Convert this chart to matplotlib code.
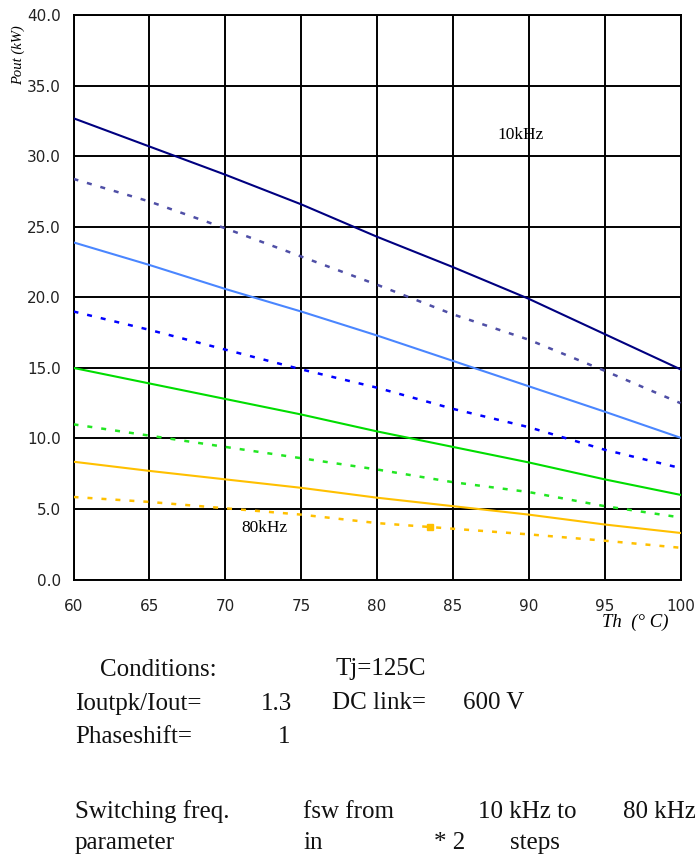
import matplotlib
matplotlib.use("Agg")
import matplotlib.pyplot as plt

# ---- data ----
temps = [60, 65, 70, 75, 80, 85, 90, 95, 100]
p_10k_solid = [32.7, 30.7, 28.7, 26.6, 24.3, 22.15, 19.9, 17.4, 14.9]
p_10k_dot = [28.4, 26.8, 24.9, 22.9, 20.9, 18.8, 17.0, 14.8, 12.5]
p_20k_solid = [23.9, 22.3, 20.6, 19.0, 17.3, 15.5, 13.7, 11.9, 10.05]
p_20k_dot = [19.0, 17.7, 16.3, 14.9, 13.6, 12.1, 10.8, 9.2, 7.9]
p_40k_solid = [15.0, 13.9, 12.8, 11.7, 10.5, 9.4, 8.3, 7.1, 6.0]
p_40k_dot = [11.0, 10.2, 9.4, 8.6, 7.8, 6.9, 6.2, 5.2, 4.4]
p_80k_solid = [8.35, 7.7, 7.1, 6.5, 5.8, 5.2, 4.6, 3.9, 3.3]
p_80k_dot = [5.85, 5.5, 5.05, 4.6, 4.0, 3.6, 3.2, 2.75, 2.25]
marker_x = [83.5]
marker_y = [3.75]

x_ticks = [60, 65, 70, 75, 80, 85, 90, 95, 100]
y_ticks = [0, 5, 10, 15, 20, 25, 30, 35, 40]
y_ticklabels = ["0.0", "5.0", "10.0", "15.0", "20.0", "25.0", "30.0", "35.0", "40.0"]

W, H = 695, 859
fig = plt.figure(figsize=(W / 100, H / 100), dpi=100)
L, R, T, B = 73.5, 680.5, 15.3, 579.5
ax = fig.add_axes([L / W, 1 - B / H, (R - L) / W, (B - T) / H])

dot = (0, (2.0, 3.6))
series = [
    (p_10k_solid, "#000080", "-"),
    (p_10k_dot, "#4f4fa6", dot),
    (p_20k_solid, "#4a86ff", "-"),
    (p_20k_dot, "#0000ff", dot),
    (p_40k_solid, "#00dd00", "-"),
    (p_40k_dot, "#22e622", dot),
    (p_80k_solid, "#ffc000", "-"),
    (p_80k_dot, "#ffc000", dot),
]
for ys, c, ls in series:
    lw = 1.5 if ls == "-" else 1.8
    ax.plot(temps, ys, color=c, linestyle=ls, linewidth=lw, zorder=3)
ax.plot(marker_x, marker_y, linestyle="none", marker="s", markersize=4,
        color="#ffc000", zorder=4)

ax.set_xlim(60, 100)
ax.set_ylim(0, 40)
ax.set_xticks(x_ticks)
ax.set_yticks(y_ticks)
ax.set_yticklabels(y_ticklabels)
ax.grid(True, color="black", linewidth=1.4, zorder=1)
for s in ax.spines.values():
    s.set_color("black")
    s.set_linewidth(1.4)
ax.tick_params(axis="both", length=0, labelsize=11, labelcolor="#222222")
ax.tick_params(axis="x", pad=14)
ax.tick_params(axis="y", pad=9)

ax.text(89.45, 31.5, "10kHz", family="Liberation Serif", fontsize=12.5,
        ha="center", va="center", zorder=5)
ax.text(72.6, 3.65, "80kHz", family="Liberation Serif", fontsize=12.5,
        ha="center", va="center", zorder=5)

fig.text(635 / W, 1 - 622 / H, "Th  (° C)", family="Liberation Serif",
         style="italic", fontsize=13.5, ha="center", va="center")
fig.text(18 / W, 1 - 55 / H, "Pout (kW)", family="Liberation Serif",
         style="italic", fontsize=10.5, rotation=90, ha="center", va="center")

fs = 18
texts = [
    ("Conditions:", 100, 676.5, "left"),
    ("Tj=125C", 335, 675.5, "left"),
    ("Ioutpk/Iout=", 75, 710, "left"),
    ("1.3", 292, 710, "right"),
    ("DC link=", 332, 709, "left"),
    ("600 V", 463, 709, "left"),
    ("Phaseshift=", 75, 743, "left"),
    ("1", 290, 743, "right"),
    ("Switching freq.", 75, 818, "left"),
    ("fsw from", 303, 818, "left"),
    ("10 kHz to", 478, 818, "left"),
    ("80 kHz", 623, 818, "left"),
    ("parameter", 75, 849, "left"),
    ("in", 303, 849, "left"),
    ("* 2", 465, 849, "right"),
    ("steps", 510, 849, "left"),
]
for s, x, y, ha in texts:
    fig.text(x / W, 1 - y / H, s, family="Liberation Serif", fontsize=fs,
             ha=ha, va="baseline", color="#111111")

fig.savefig("out.png", dpi=100)
